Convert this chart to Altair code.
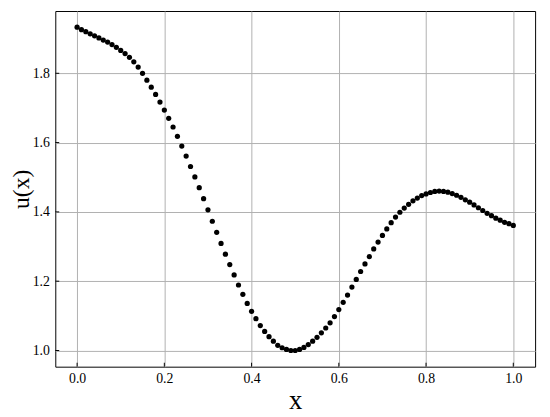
import altair as alt
import pandas as pd

x_vals = [
    0.00, 0.01, 0.02, 0.03, 0.04, 0.05, 0.06, 0.07, 0.08, 0.09,
    0.10, 0.11, 0.12, 0.13, 0.14, 0.15, 0.16, 0.17, 0.18, 0.19,
    0.20, 0.21, 0.22, 0.23, 0.24, 0.25, 0.26, 0.27, 0.28, 0.29,
    0.30, 0.31, 0.32, 0.33, 0.34, 0.35, 0.36, 0.37, 0.38, 0.39,
    0.40, 0.41, 0.42, 0.43, 0.44, 0.45, 0.46, 0.47, 0.48, 0.49,
    0.50, 0.51, 0.52, 0.53, 0.54, 0.55, 0.56, 0.57, 0.58, 0.59,
    0.60, 0.61, 0.62, 0.63, 0.64, 0.65, 0.66, 0.67, 0.68, 0.69,
    0.70, 0.71, 0.72, 0.73, 0.74, 0.75, 0.76, 0.77, 0.78, 0.79,
    0.80, 0.81, 0.82, 0.83, 0.84, 0.85, 0.86, 0.87, 0.88, 0.89,
    0.90, 0.91, 0.92, 0.93, 0.94, 0.95, 0.96, 0.97, 0.98, 0.99,
    1.00,
]

u_vals = [
    1.933, 1.926, 1.920, 1.914, 1.908, 1.902, 1.896, 1.890, 1.883, 1.875,
    1.866, 1.857, 1.846, 1.833, 1.818, 1.800, 1.780, 1.760, 1.739, 1.717,
    1.694, 1.670, 1.645, 1.618, 1.590, 1.561, 1.531, 1.501, 1.470, 1.438,
    1.406, 1.373, 1.341, 1.309, 1.278, 1.248, 1.218, 1.189, 1.162, 1.136,
    1.113, 1.092, 1.072, 1.055, 1.040, 1.027, 1.015, 1.008, 1.003, 1.000,
    1.000, 1.003, 1.009, 1.017, 1.027, 1.038, 1.051, 1.065, 1.080, 1.098,
    1.118, 1.139, 1.160, 1.183, 1.205, 1.228, 1.250, 1.271, 1.293, 1.313,
    1.332, 1.351, 1.369, 1.385, 1.399, 1.411, 1.422, 1.432, 1.440, 1.447,
    1.452, 1.456, 1.459, 1.460, 1.459, 1.457, 1.453, 1.448, 1.442, 1.435,
    1.428, 1.420, 1.412, 1.404, 1.396, 1.389, 1.382, 1.376, 1.370, 1.366,
    1.361,
]

x_ticks = [0.0, 0.2, 0.4, 0.6, 0.8, 1.0]
y_ticks = [1.0, 1.2, 1.4, 1.6, 1.8]

W, H = 487, 361
FONT = "Times New Roman, Liberation Serif, DejaVu Serif, serif"

xscale = alt.Scale(domain=[-0.05, 1.05], nice=False, zero=False)
yscale = alt.Scale(domain=[0.9533, 1.9797], nice=False, zero=False)

df = pd.DataFrame({"x": x_vals, "u": u_vals})

points = alt.Chart(df).mark_circle(size=28, color="black", opacity=1).encode(
    x=alt.X("x:Q", scale=xscale,
            axis=alt.Axis(values=x_ticks, format=".1f", title="x",
                          labelPadding=5, titleY=42, titleBaseline="alphabetic")),
    y=alt.Y("u:Q", scale=yscale,
            axis=alt.Axis(values=y_ticks, format=".1f", title="u(x)",
                          labelPadding=6, titleX=-27, titleY=H / 2,
                          titleAngle=270, titleBaseline="alphabetic",
                          titleFontSize=24)),
)

xt = alt.Chart(pd.DataFrame({"x": x_ticks})).mark_rule(color="black", strokeWidth=1).encode(
    x=alt.X("x:Q", scale=xscale),
    y=alt.value(H),
    y2=alt.value(H - 4),
)

yt = alt.Chart(pd.DataFrame({"u": y_ticks})).mark_rule(color="black", strokeWidth=1).encode(
    y=alt.Y("u:Q", scale=yscale),
    x=alt.value(0),
    x2=alt.value(4),
)

chart = alt.layer(points, xt, yt).properties(
    width=W,
    height=H,
    autosize=alt.AutoSizeParams(type="none"),
    padding={"left": 48, "top": 0, "right": 7, "bottom": 48},
).configure_view(
    stroke="black", strokeWidth=1
).configure_axis(
    grid=True, gridColor="#b0b0b0", gridWidth=1,
    domain=False, ticks=False, tickSize=0,
    labelFont=FONT, labelFontSize=14, labelColor="black",
    titleFont=FONT, titleFontSize=27, titleFontWeight="normal", titleColor="black",
)

chart.save("out.html", embed_options={"renderer": "svg", "actions": False})
